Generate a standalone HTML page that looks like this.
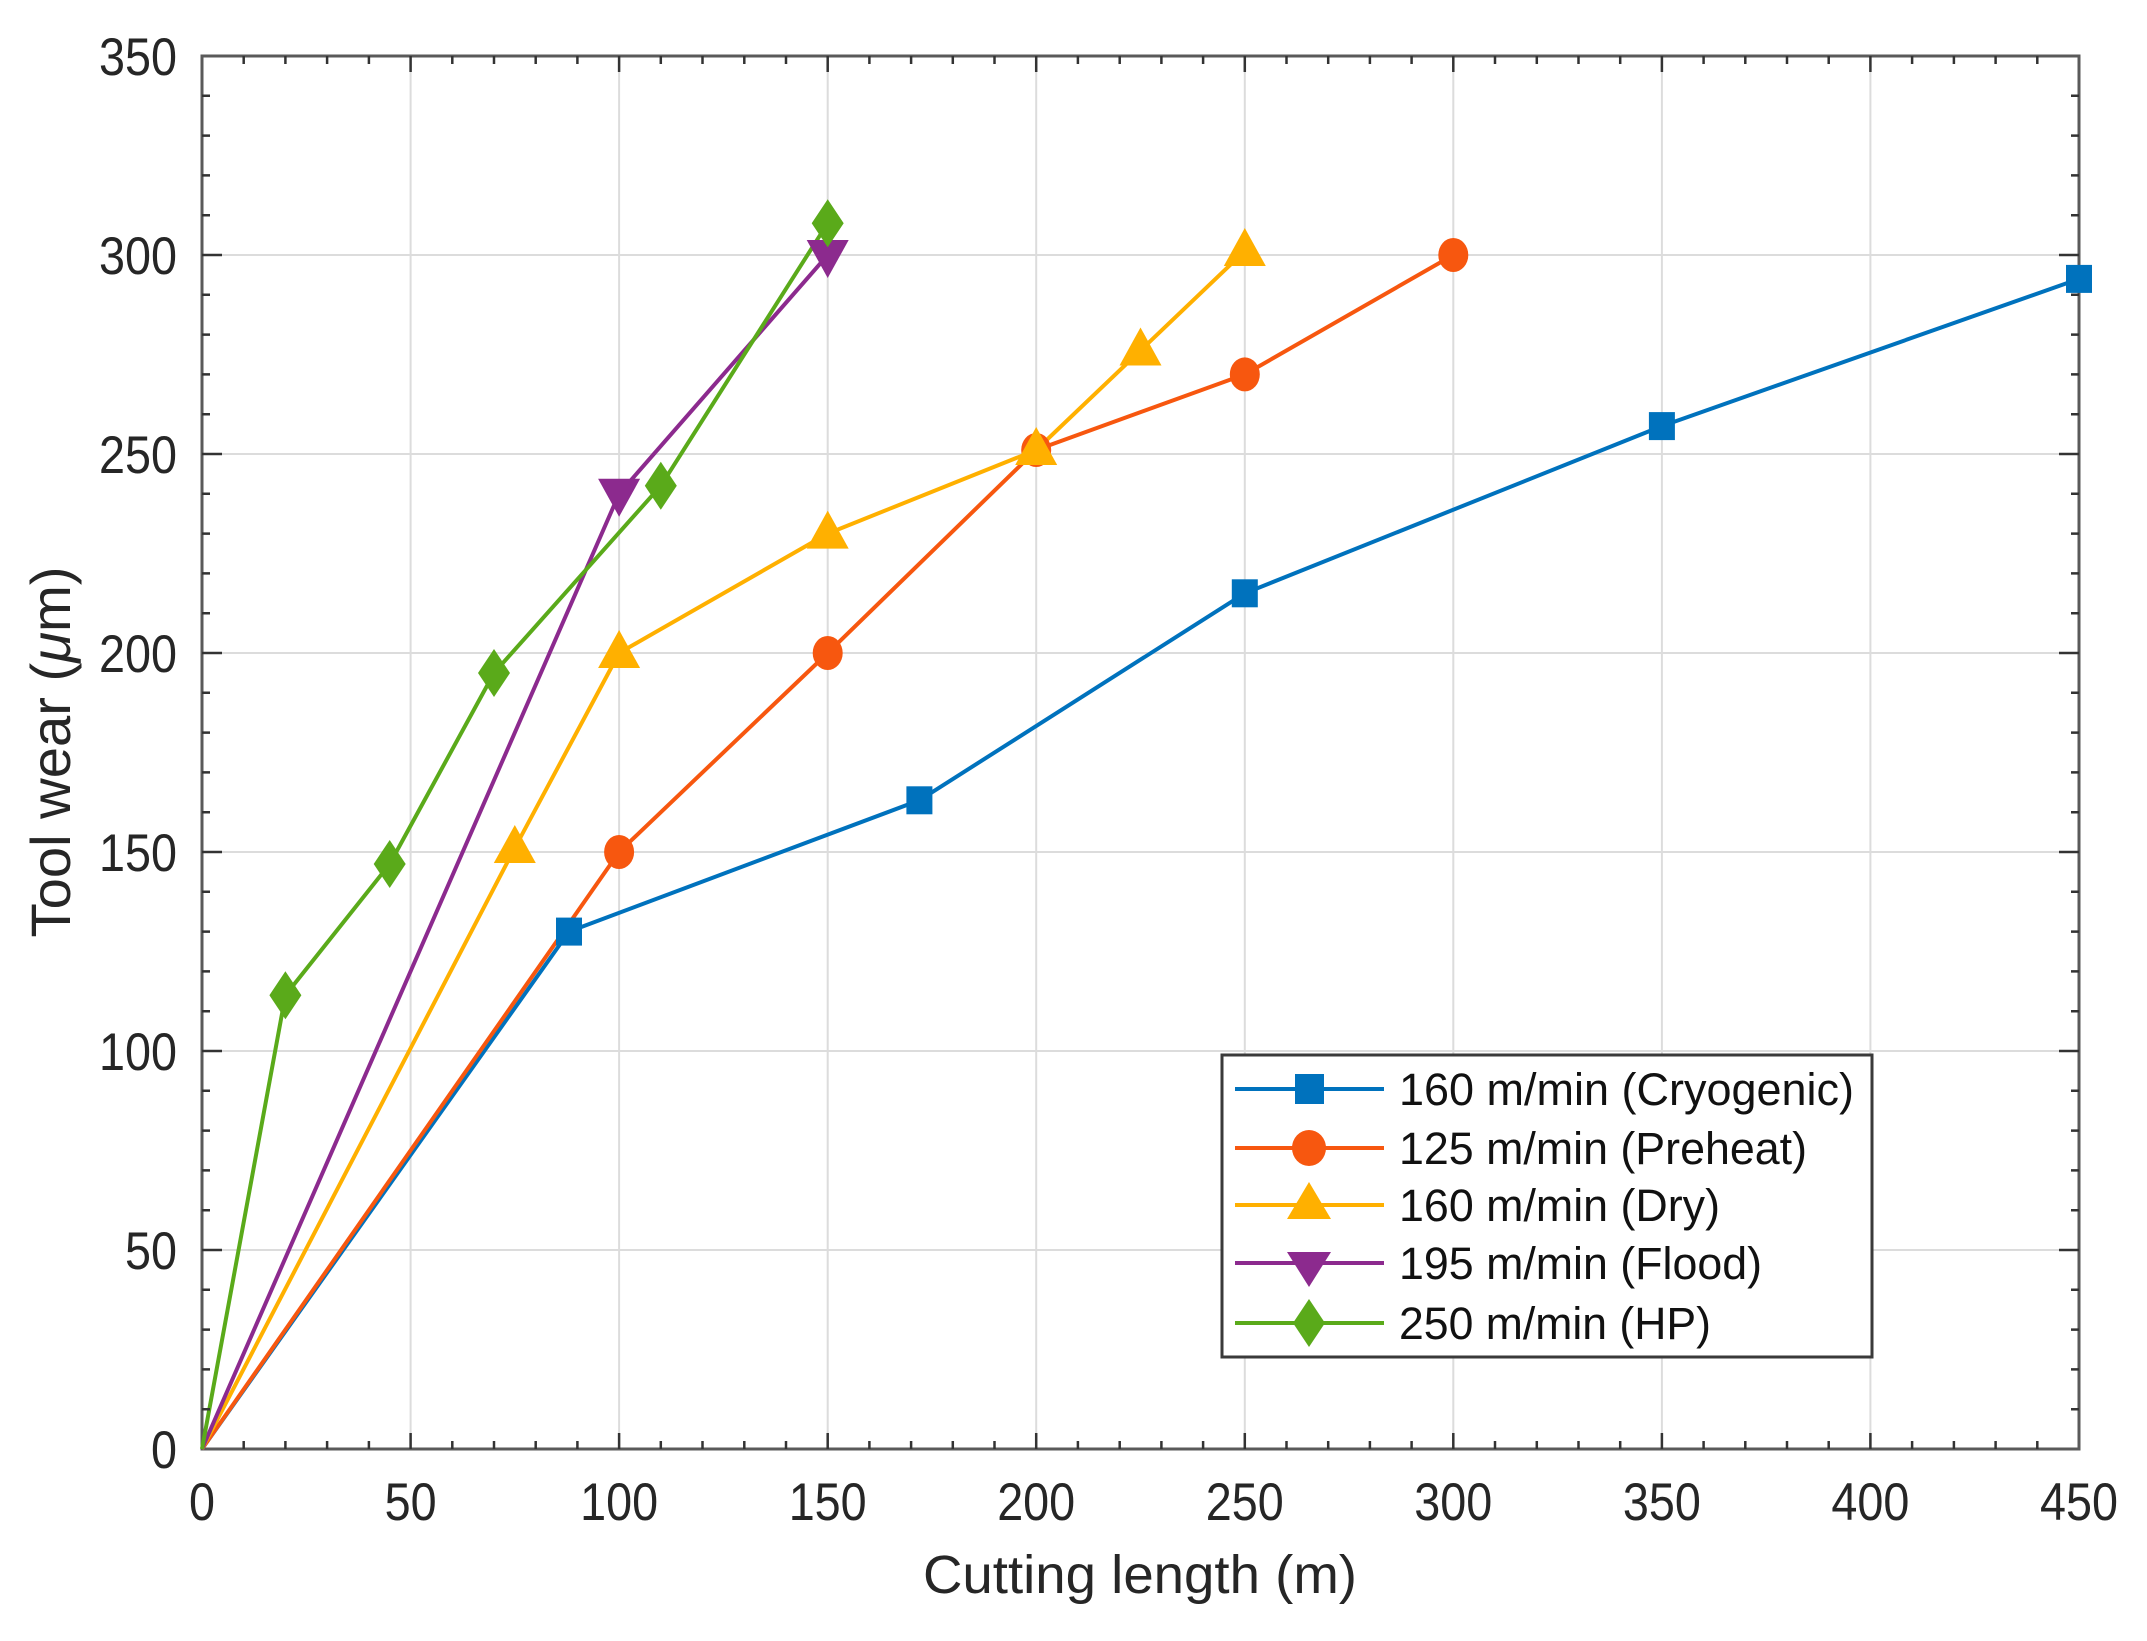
<!DOCTYPE html>
<html><head><meta charset="utf-8"><style>body{margin:0;background:#fff}svg{display:block}</style></head>
<body>
<svg width="2147" height="1641" viewBox="0 0 2147 1641" xmlns="http://www.w3.org/2000/svg" font-family="Liberation Sans, Arial, sans-serif" fill="#262626">
<defs>
<rect id="sq" x="-13" y="-14" width="26" height="28"/>
<ellipse id="ci" rx="15" ry="17"/>
<polygon id="tu" points="0,-23 21,15 -21,15"/>
<polygon id="td" points="0,23 21,-15 -21,-15"/>
<polygon id="di" points="0,-24 16,0 0,24 -16,0"/>
</defs>
<rect x="202" y="56" width="1877" height="1393" fill="#fff"/>
<g stroke="#dcdcdc" stroke-width="2">
<line x1="410.6" y1="56" x2="410.6" y2="1449"/><line x1="619.1" y1="56" x2="619.1" y2="1449"/><line x1="827.7" y1="56" x2="827.7" y2="1449"/><line x1="1036.2" y1="56" x2="1036.2" y2="1449"/><line x1="1244.8" y1="56" x2="1244.8" y2="1449"/><line x1="1453.3" y1="56" x2="1453.3" y2="1449"/><line x1="1661.9" y1="56" x2="1661.9" y2="1449"/><line x1="1870.4" y1="56" x2="1870.4" y2="1449"/>
<line x1="202" y1="255" x2="2079" y2="255"/><line x1="202" y1="454" x2="2079" y2="454"/><line x1="202" y1="653" x2="2079" y2="653"/><line x1="202" y1="852" x2="2079" y2="852"/><line x1="202" y1="1051" x2="2079" y2="1051"/><line x1="202" y1="1250" x2="2079" y2="1250"/>
</g>
<rect x="202" y="56" width="1877" height="1393" fill="none" stroke="#5a5a5a" stroke-width="3"/>
<g fill="none" stroke-width="4" stroke-linejoin="round">
<polyline stroke="#0072BD" points="202,1449 569,931.6 919.4,800.3 1244.8,593.3 1661.9,426.1 2079,278.9"/>
<polyline stroke="#F7570F" points="202,1449 619.1,852 827.7,653 1036.2,450 1244.8,374.4 1453.3,255"/>
<polyline stroke="#FFB000" points="202,1449 514.8,848 619.1,653 827.7,533.6 1036.2,450 1140.5,350.5 1244.8,251"/>
<polyline stroke="#8C2A8E" points="202,1449 619.1,493.8 827.7,255"/>
<polyline stroke="#5AAA1A" points="202,1449 285.4,995.3 389.7,864 494,673 660.8,485.8 827.7,223.2"/>
</g>
<g fill="#0072BD"><use href="#sq" x="569" y="931.6"/><use href="#sq" x="919.4" y="800.3"/><use href="#sq" x="1244.8" y="593.3"/><use href="#sq" x="1661.9" y="426.1"/><use href="#sq" x="2079" y="278.9"/></g>
<g fill="#F7570F"><use href="#ci" x="619.1" y="852"/><use href="#ci" x="827.7" y="653"/><use href="#ci" x="1036.2" y="450"/><use href="#ci" x="1244.8" y="374.4"/><use href="#ci" x="1453.3" y="255"/></g>
<g fill="#FFB000"><use href="#tu" x="514.8" y="848"/><use href="#tu" x="619.1" y="653"/><use href="#tu" x="827.7" y="533.6"/><use href="#tu" x="1036.2" y="450"/><use href="#tu" x="1140.5" y="350.5"/><use href="#tu" x="1244.8" y="251"/></g>
<g fill="#8C2A8E"><use href="#td" x="619.1" y="493.8"/><use href="#td" x="827.7" y="255"/></g>
<g fill="#5AAA1A"><use href="#di" x="285.4" y="995.3"/><use href="#di" x="389.7" y="864"/><use href="#di" x="494" y="673"/><use href="#di" x="660.8" y="485.8"/><use href="#di" x="827.7" y="223.2"/></g>
<g font-size="53" text-anchor="end">
<text x="177" y="75" textLength="78" lengthAdjust="spacingAndGlyphs">350</text>
<text x="177" y="274" textLength="78" lengthAdjust="spacingAndGlyphs">300</text>
<text x="177" y="473" textLength="78" lengthAdjust="spacingAndGlyphs">250</text>
<text x="177" y="672" textLength="78" lengthAdjust="spacingAndGlyphs">200</text>
<text x="177" y="871" textLength="78" lengthAdjust="spacingAndGlyphs">150</text>
<text x="177" y="1070" textLength="78" lengthAdjust="spacingAndGlyphs">100</text>
<text x="177" y="1269" textLength="52" lengthAdjust="spacingAndGlyphs">50</text>
<text x="177" y="1468" textLength="26" lengthAdjust="spacingAndGlyphs">0</text>
</g>
<g font-size="53" text-anchor="middle">
<text x="202" y="1520" textLength="26" lengthAdjust="spacingAndGlyphs">0</text>
<text x="410.6" y="1520" textLength="52" lengthAdjust="spacingAndGlyphs">50</text>
<text x="619.1" y="1520" textLength="78" lengthAdjust="spacingAndGlyphs">100</text>
<text x="827.7" y="1520" textLength="78" lengthAdjust="spacingAndGlyphs">150</text>
<text x="1036.2" y="1520" textLength="78" lengthAdjust="spacingAndGlyphs">200</text>
<text x="1244.8" y="1520" textLength="78" lengthAdjust="spacingAndGlyphs">250</text>
<text x="1453.3" y="1520" textLength="78" lengthAdjust="spacingAndGlyphs">300</text>
<text x="1661.9" y="1520" textLength="78" lengthAdjust="spacingAndGlyphs">350</text>
<text x="1870.4" y="1520" textLength="78" lengthAdjust="spacingAndGlyphs">400</text>
<text x="2079" y="1520" textLength="78" lengthAdjust="spacingAndGlyphs">450</text>
</g>
<text x="1140" y="1593" font-size="54" text-anchor="middle" textLength="434" lengthAdjust="spacingAndGlyphs">Cutting length (m)</text>
<text transform="translate(70,752) rotate(-90)" font-size="56" text-anchor="middle" textLength="371" lengthAdjust="spacingAndGlyphs">Tool wear (<tspan font-style="italic">μ</tspan>m)</text>
<rect x="1222" y="1055" width="650" height="302" fill="#fff" stroke="#3a3a3a" stroke-width="3"/>
<g stroke-width="4">
<line x1="1235" y1="1089" x2="1384" y2="1089" stroke="#0072BD"/>
<line x1="1235" y1="1148" x2="1384" y2="1148" stroke="#F7570F"/>
<line x1="1235" y1="1205" x2="1384" y2="1205" stroke="#FFB000"/>
<line x1="1235" y1="1263" x2="1384" y2="1263" stroke="#8C2A8E"/>
<line x1="1235" y1="1323" x2="1384" y2="1323" stroke="#5AAA1A"/>
</g>
<rect x="1295" y="1074" width="29" height="30" fill="#0072BD"/>
<ellipse cx="1309" cy="1148" rx="17" ry="18" fill="#F7570F"/>
<polygon points="1309,1182 1331,1219 1287,1219" fill="#FFB000"/>
<polygon points="1309,1287 1331,1252 1287,1252" fill="#8C2A8E"/>
<polygon points="1309,1299 1325,1323 1309,1347 1293,1323" fill="#5AAA1A"/>
<g font-size="45" fill="#111">
<text x="1399" y="1105" textLength="455" lengthAdjust="spacingAndGlyphs">160 m/min (Cryogenic)</text>
<text x="1399" y="1164" textLength="408" lengthAdjust="spacingAndGlyphs">125 m/min (Preheat)</text>
<text x="1399" y="1221" textLength="321" lengthAdjust="spacingAndGlyphs">160 m/min (Dry)</text>
<text x="1399" y="1279" textLength="363" lengthAdjust="spacingAndGlyphs">195 m/min (Flood)</text>
<text x="1399" y="1339" textLength="312" lengthAdjust="spacingAndGlyphs">250 m/min (HP)</text>
</g>
<g stroke="#333" stroke-width="2.5">
<path d="M243.7,1449v-8M285.4,1449v-8M327.1,1449v-8M368.9,1449v-8M410.6,1449v-16M452.3,1449v-8M494,1449v-8M535.7,1449v-8M577.4,1449v-8M619.1,1449v-16M660.8,1449v-8M702.5,1449v-8M744.3,1449v-8M786,1449v-8M827.7,1449v-16M869.4,1449v-8M911.1,1449v-8M952.8,1449v-8M994.5,1449v-8M1036.2,1449v-16M1077.9,1449v-8M1119.7,1449v-8M1161.4,1449v-8M1203.1,1449v-8M1244.8,1449v-16M1286.5,1449v-8M1328.2,1449v-8M1369.9,1449v-8M1411.6,1449v-8M1453.3,1449v-16M1495,1449v-8M1536.8,1449v-8M1578.5,1449v-8M1620.2,1449v-8M1661.9,1449v-16M1703.6,1449v-8M1745.3,1449v-8M1787,1449v-8M1828.7,1449v-8M1870.4,1449v-16M1912.1,1449v-8M1953.9,1449v-8M1995.6,1449v-8M2037.3,1449v-8"/>
<path d="M243.7,56v8M285.4,56v8M327.1,56v8M368.9,56v8M410.6,56v16M452.3,56v8M494,56v8M535.7,56v8M577.4,56v8M619.1,56v16M660.8,56v8M702.5,56v8M744.3,56v8M786,56v8M827.7,56v16M869.4,56v8M911.1,56v8M952.8,56v8M994.5,56v8M1036.2,56v16M1077.9,56v8M1119.7,56v8M1161.4,56v8M1203.1,56v8M1244.8,56v16M1286.5,56v8M1328.2,56v8M1369.9,56v8M1411.6,56v8M1453.3,56v16M1495,56v8M1536.8,56v8M1578.5,56v8M1620.2,56v8M1661.9,56v16M1703.6,56v8M1745.3,56v8M1787,56v8M1828.7,56v8M1870.4,56v16M1912.1,56v8M1953.9,56v8M1995.6,56v8M2037.3,56v8"/>
<path d="M202,95.8h8M202,135.6h8M202,175.4h8M202,215.2h8M202,255h20M202,294.8h8M202,334.6h8M202,374.4h8M202,414.2h8M202,454h20M202,493.8h8M202,533.6h8M202,573.4h8M202,613.2h8M202,653h20M202,692.8h8M202,732.6h8M202,772.4h8M202,812.2h8M202,852h20M202,891.8h8M202,931.6h8M202,971.4h8M202,1011.2h8M202,1051h20M202,1090.8h8M202,1130.6h8M202,1170.4h8M202,1210.2h8M202,1250h20M202,1289.8h8M202,1329.6h8M202,1369.4h8M202,1409.2h8"/>
<path d="M2079,95.8h-8M2079,135.6h-8M2079,175.4h-8M2079,215.2h-8M2079,255h-20M2079,294.8h-8M2079,334.6h-8M2079,374.4h-8M2079,414.2h-8M2079,454h-20M2079,493.8h-8M2079,533.6h-8M2079,573.4h-8M2079,613.2h-8M2079,653h-20M2079,692.8h-8M2079,732.6h-8M2079,772.4h-8M2079,812.2h-8M2079,852h-20M2079,891.8h-8M2079,931.6h-8M2079,971.4h-8M2079,1011.2h-8M2079,1051h-20M2079,1090.8h-8M2079,1130.6h-8M2079,1170.4h-8M2079,1210.2h-8M2079,1250h-20M2079,1289.8h-8M2079,1329.6h-8M2079,1369.4h-8M2079,1409.2h-8"/>
</g>
</svg>
</body></html>
